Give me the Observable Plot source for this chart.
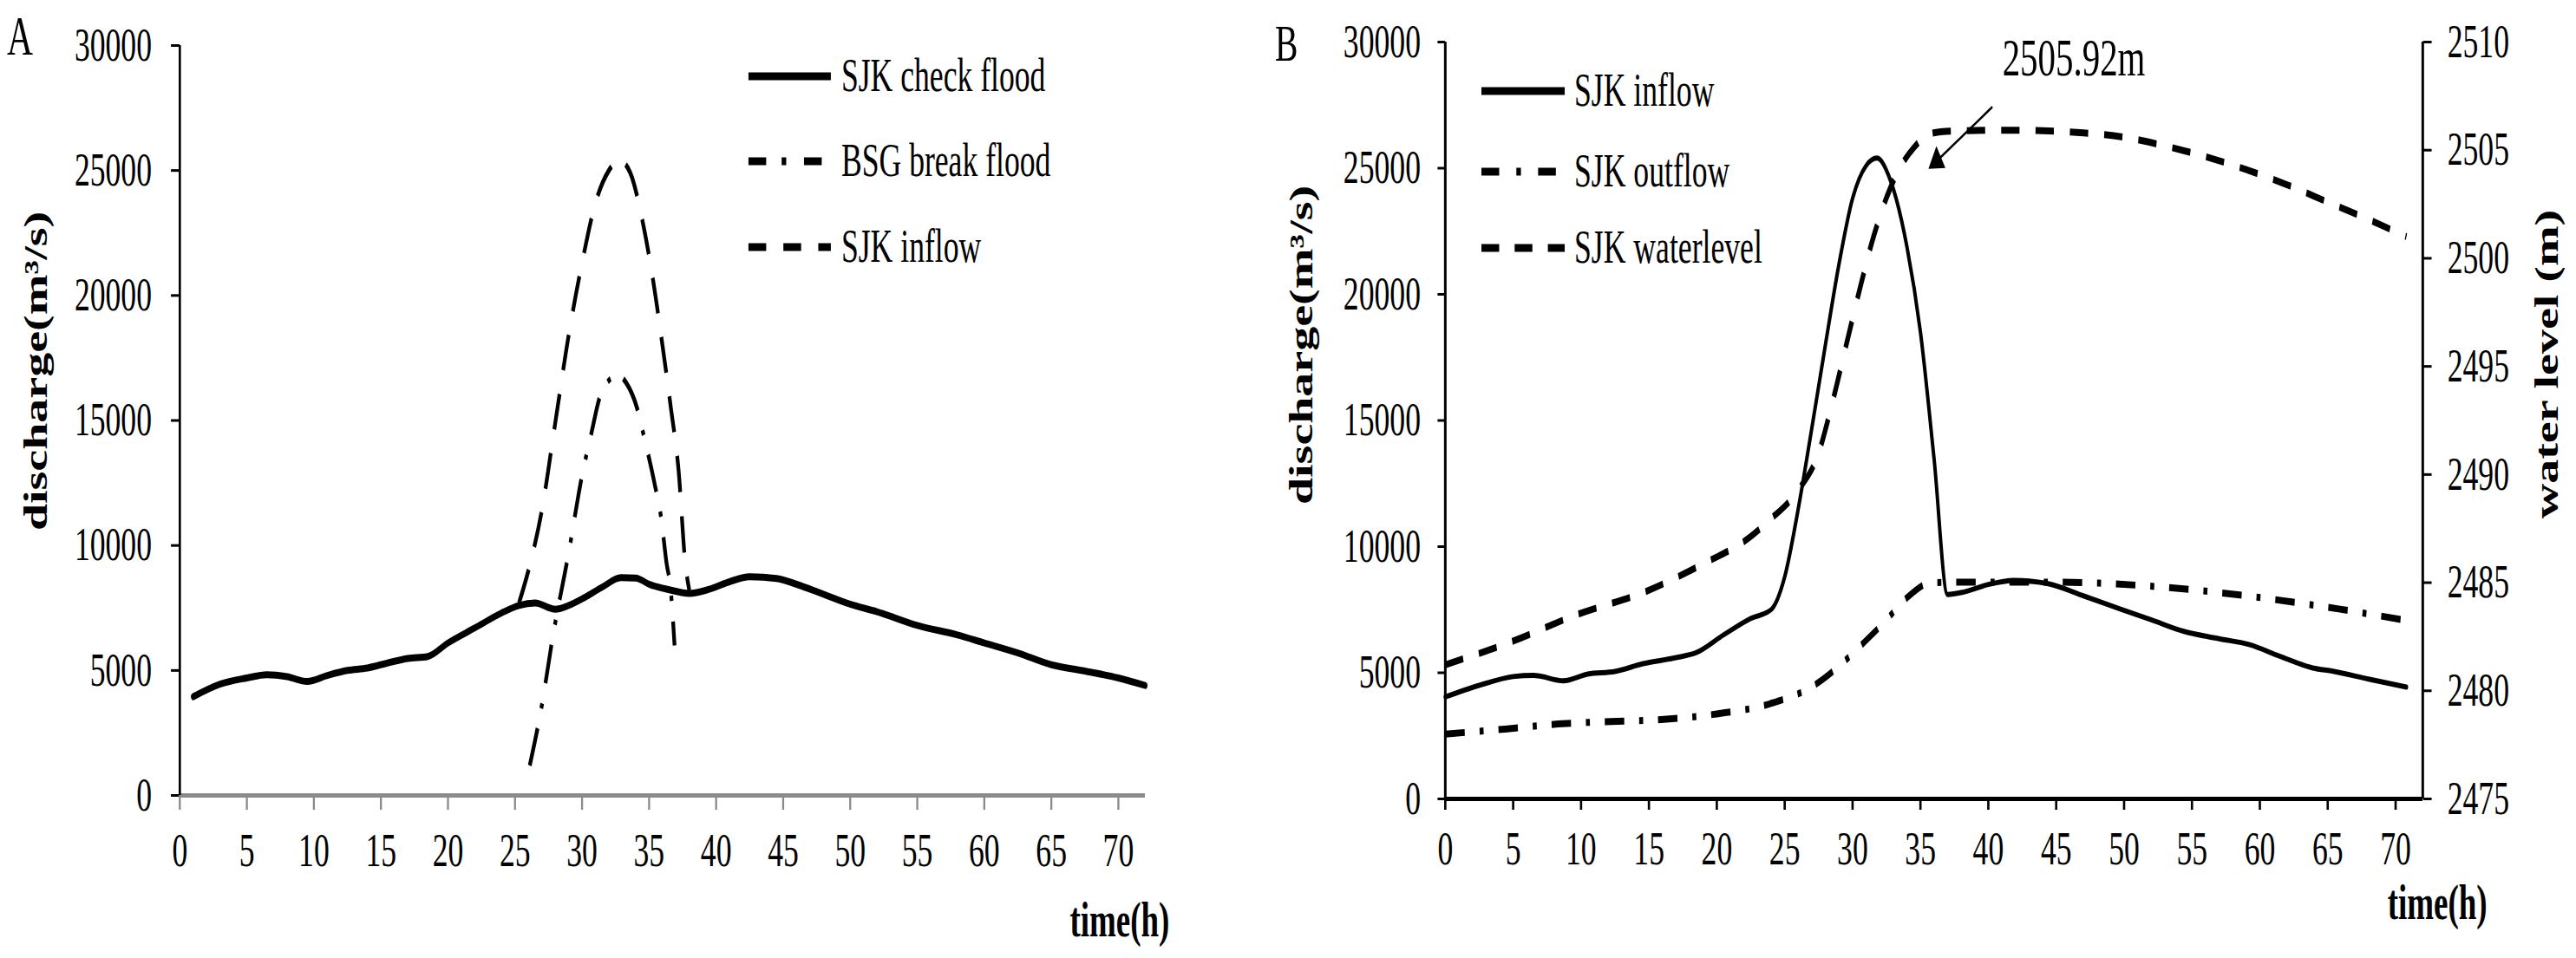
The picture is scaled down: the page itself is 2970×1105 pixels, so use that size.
<!DOCTYPE html>
<html><head><meta charset="utf-8">
<script src="https://cdn.jsdelivr.net/npm/d3@7"></script>
<script src="https://cdn.jsdelivr.net/npm/@observablehq/plot@0.6"></script>
<style>
html,body{margin:0;padding:0;background:#fff;overflow:hidden;width:2970px;height:1105px;}
#wrap{position:relative;width:2970px;height:1105px;}
#wrap svg{position:absolute;top:0;}
</style></head><body><div id="wrap"></div>
<script>
// ---------- tick labels ----------
const hourTicks = [0,5,10,15,20,25,30,35,40,45,50,55,60,65,70];
const dischargeTicks = [0,5000,10000,15000,20000,25000,30000];
const levelTicks = [2475,2480,2485,2490,2495,2500,2505,2510];

// ---------- panel A series ----------
const checkFloodT = [1,3,5,6.5,8,9.5,11,12.5,14,15.5,17,18.5,20,22,24,25.3,26.5,28,29,30.2,31.5,32.9,34,35,36.5,38,39.5,41,42.5,44.5,46.5,48,50,52,55,58,60,62.5,65,67.5,70,72];
const checkFloodQ = [3950,4450,4700,4830,4750,4560,4800,5000,5100,5300,5480,5560,6100,6700,7300,7600,7700,7450,7600,7920,8330,8710,8700,8450,8230,8080,8250,8550,8750,8680,8350,8050,7650,7350,6800,6420,6100,5700,5230,4980,4700,4400];

const breakFloodT = [26.1,26.9,27.9,29,30,30.7,31.3,32,32.7,33.3,34.1,34.6,35.4,35.9,36.3,36.6,36.9];
const breakFloodQ = [1200,3300,6600,9700,12800,14500,15900,16600,16800,16500,15500,14400,12500,11100,9300,8300,6000];

const inflowAT = [25.3,26,27,28,29,30,31,32,32.8,33.6,34.5,35.3,36,36.6,37.2,37.7,38];
const inflowAQ = [7700,9000,11400,14900,18400,21300,23700,25000,25400,24900,23000,20600,18000,15600,13000,9300,8200];

// ---------- panel B series ----------
const inflowBT = [0,2.5,5,6.5,8.7,10.5,12.5,14.5,17,18.5,20.5,22.5,24,25,26,27,28,29,30,31,31.8,32.8,34,35,36,37,38.2,40,41.9,44.4,47,49.7,52,54.4,57,59.2,61.5,63.9,65.4,68,70.8];
const inflowBQ = [4040,4500,4850,4900,4680,4950,5050,5350,5600,5800,6500,7150,7500,8800,11500,14700,18000,21200,23800,25100,25400,24500,21900,18500,13500,8100,8200,8500,8660,8530,8050,7530,7100,6640,6350,6120,5650,5190,5060,4750,4430];

const outflowBT = [0,4.4,8.3,12.2,16.1,20,23.9,27.2,29.1,30.4,32.4,34,35.8,37.8,45,53,61,65.8,71];
const outflowBQ = [2570,2770,2970,3070,3150,3370,3770,4510,5310,5970,7040,7970,8570,8590,8590,8390,7910,7530,7050];

const levelBT = [0,5,9.6,14.8,19.4,22,23.9,25.9,27.5,28.5,29.5,30.5,31.5,32.5,33.5,34.5,35.5,36.5,38,41,44,47,50,53,56,59,62,65,68,70.8];
const levelBM = [2481.2,2482.3,2483.5,2484.6,2486.0,2486.9,2487.9,2489.2,2491.0,2493.3,2495.9,2498.5,2500.9,2502.8,2504.2,2505.1,2505.7,2505.85,2505.9,2505.92,2505.9,2505.8,2505.6,2505.2,2504.7,2504.1,2503.4,2502.6,2501.8,2501.0];

// annotation of the peak water level
const peakNote = [{t: 46.3, level: 2509.24, text: "2505.92m"}];
const peakArrow = [{t1: 40.3, l1: 2507.0, t2: 36.2, l2: 2504.5}];

// legends
const legendA = [
  {label: "SJK check flood", dash: null},
  {label: "BSG break flood", dash: "31,27,8,31"},
  {label: "SJK inflow", dash: "31,30"}
];
const legendB = [
  {label: "SJK inflow", dash: null},
  {label: "SJK outflow", dash: "31,30,8,30"},
  {label: "SJK waterlevel", dash: "31,27"}
];

// ---------- helpers ----------
const zip = (T, V, k) => T.map((t, i) => ({t, [k]: V[i]}));
const checkFlood = zip(checkFloodT, checkFloodQ, "q");
const breakFlood = zip(breakFloodT, breakFloodQ, "q");
const inflowA = zip(inflowAT, inflowAQ, "q");
const inflowB = zip(inflowBT, inflowBQ, "q");
const outflowB = zip(outflowBT, outflowBQ, "q");
const levelB = zip(levelBT, levelBM, "level");

// water level (2475..2510) shares the pixel span of discharge (0..30000)
const L0 = 2475, L1 = 2510, Q1 = 30000;
const toQ = l => (l - L0) * Q1 / (L1 - L0);
const fromQ = q => L0 + q * (L1 - L0) / Q1;

const C = 0.66;      // horizontal compression of the reference figure
const H = 1105;
const FONT = "'Liberation Serif','Times New Roman',serif";
const baseStyle = {fontFamily: FONT, fontSize: "54px", background: "white", color: "black", overflow: "visible"};

function squash(svg, finalW, left) {
  const uW = Math.round(finalW / C);
  svg.setAttribute("viewBox", `0 0 ${uW} ${H}`);
  svg.setAttribute("width", finalW);
  svg.setAttribute("height", H);
  svg.setAttribute("preserveAspectRatio", "none");
  svg.style.width = finalW + "px";
  svg.style.height = H + "px";
  svg.style.maxWidth = "none";
  svg.style.left = left + "px";
}
function txt(g, x, y, s, size, weight, anchor, rot) {
  const t = g.append("text")
    .attr("font-family", FONT).attr("font-size", size)
    .attr("font-weight", weight || "normal")
    .attr("text-anchor", anchor || "start")
    .attr("fill", "black").text(s);
  if (rot) t.attr("transform", `translate(${x},${y}) rotate(${rot})`).attr("dominant-baseline", "central");
  else t.attr("x", x).attr("y", y);
  return t;
}
function legend(g, items, x1, x2, xt, rows) {
  items.forEach((e, i) => {
    const ln = g.append("line").attr("x1", x1).attr("x2", x2)
      .attr("y1", rows[i]).attr("y2", rows[i])
      .attr("stroke", "black").attr("stroke-width", 9);
    if (e.dash) ln.attr("stroke-dasharray", e.dash);
    txt(g, xt, rows[i] + 17, e.label, 54);
  });
}

const wrap = document.getElementById("wrap");
const dashed = {strokeLinecap: "butt", strokeLinejoin: "round"};

// ---------- Panel A ----------
const WA = 1440;
const plotA = Plot.plot({
  width: Math.round(WA / C), height: H,
  marginLeft: 207 / C, marginRight: (WA - 1320) / C, marginTop: 52, marginBottom: H - 917,
  x: {domain: [0, 72]}, y: {domain: [0, 30000]},
  style: baseStyle,
  marks: [
    Plot.axisY({ticks: dischargeTicks, tickSize: 15, tickPadding: 34, strokeWidth: 3, tickFormat: d => `${d}`, label: null}),
    Plot.axisX({ticks: hourTicks, tickSize: 17, tickPadding: 26, stroke: "#8a8a8a", strokeWidth: 3.5, tickFormat: d => `${d}`, label: null}),
    Plot.ruleY([0], {stroke: "#8a8a8a", strokeWidth: 5}),
    Plot.ruleX([0], {stroke: "black", strokeWidth: 4}),
    Plot.line(breakFlood, {x: "t", y: "q", stroke: "black", strokeWidth: 6.5, strokeDasharray: "45,24,6,24", curve: "monotone-x", ...dashed}),
    Plot.line(inflowA, {x: "t", y: "q", stroke: "black", strokeWidth: 6.5, strokeDasharray: "42,28", curve: "monotone-x", ...dashed}),
    Plot.line(checkFlood, {x: "t", y: "q", stroke: "black", strokeWidth: 8, curve: "monotone-x"})
  ]
});
squash(plotA, WA, 0);
wrap.appendChild(plotA);
{
  const g = d3.select(plotA).append("g");
  txt(g, 12, 63, "A", 63);
  txt(g, 42 / C, 428, "discharge(m³/s)", 56, "bold", "middle", -90);
  txt(g, 1291 / C, 1080, "time(h)", 56, "bold", "middle");
  legend(g, legendA, 863 / C, 958 / C, 970 / C, [88, 186, 285]);
}

// ---------- Panel B ----------
const WB = 1530, LB = 1440;
const plotB = Plot.plot({
  width: Math.round(WB / C), height: H,
  marginLeft: (1666 - LB) / C, marginRight: (2970 - 2793) / C, marginTop: 48, marginBottom: H - 921,
  x: {domain: [0, 72]}, y: {domain: [0, 30000]},
  style: baseStyle,
  marks: [
    Plot.axisY({ticks: dischargeTicks, tickSize: 13, tickPadding: 30, strokeWidth: 3, tickFormat: d => `${d}`, label: null}),
    Plot.axisY({anchor: "right", ticks: levelTicks.map(toQ), tickSize: 15, tickPadding: 28, strokeWidth: 3, tickFormat: q => `${Math.round(fromQ(q))}`, label: null}),
    Plot.axisX({ticks: hourTicks, tickSize: 13, tickPadding: 24, strokeWidth: 4, tickFormat: d => `${d}`, label: null}),
    Plot.ruleY([0], {stroke: "black", strokeWidth: 5}),
    Plot.ruleX([0, 72], {stroke: "black", strokeWidth: 4.5}),
    Plot.line(levelB, {x: "t", y: d => toQ(d.level), stroke: "black", strokeWidth: 8, strokeDasharray: "32,28", curve: "monotone-x", ...dashed}),
    Plot.line(outflowB, {x: "t", y: "q", stroke: "black", strokeWidth: 8, strokeDasharray: "34,26,7,26", curve: "monotone-x", ...dashed}),
    Plot.line(inflowB, {x: "t", y: "q", stroke: "black", strokeWidth: 6, curve: "monotone-x"}),
    Plot.link(peakArrow, {x1: "t1", y1: d => toQ(d.l1), x2: "t2", y2: d => toQ(d.l2), stroke: "black", strokeWidth: 3}),
    Plot.dot(peakArrow, {x: "t2", y: d => toQ(d.l2), symbol: "triangle", r: 11, fill: "black", stroke: null, rotate: 238}),
    Plot.text(peakNote, {x: "t", y: d => toQ(d.level), text: "text", fontSize: 62, textAnchor: "middle", lineAnchor: "middle"})
  ]
});
squash(plotB, WB, LB);
wrap.appendChild(plotB);
{
  const g = d3.select(plotB).append("g");
  txt(g, (1470 - LB) / C, 70, "B", 60);
  txt(g, (1501 - LB) / C, 398, "discharge(m³/s)", 56, "bold", "middle", -90);
  txt(g, (2936 - LB) / C, 420, "water level (m)", 56, "bold", "middle", -90);
  txt(g, (2810 - LB) / C, 1060, "time(h)", 56, "bold", "middle");
  legend(g, legendB, (1708 - LB) / C, (1804 - LB) / C, (1815 - LB) / C, [105, 198, 286]);
}
</script></body></html>
